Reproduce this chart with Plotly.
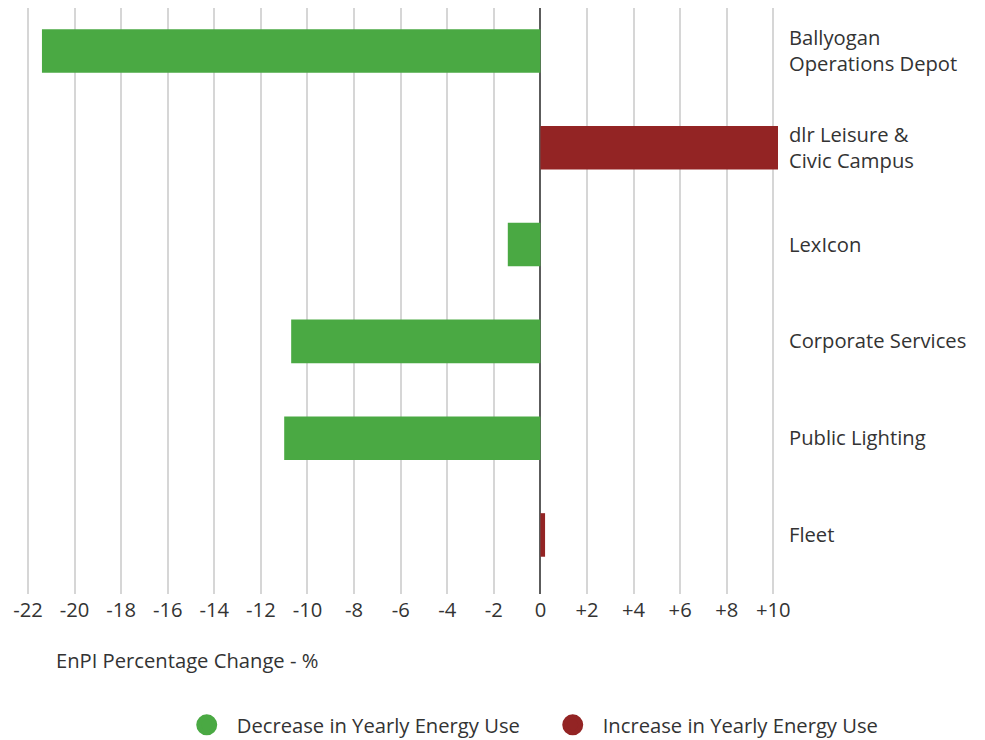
import plotly.graph_objects as go

# Sites and their year-on-year EnPI change (%)
categories = [
    "Ballyogan<br>Operations Depot",
    "dlr Leisure &<br>Civic Campus",
    "LexIcon",
    "Corporate Services",
    "Public Lighting",
    "Fleet",
]
enpi_change = [-21.4, 10.2, -1.4, -10.7, -11.0, 0.2]

x_tick_values = [-22, -20, -18, -16, -14, -12, -10, -8, -6, -4, -2, 0, 2, 4, 6, 8, 10]
x_tick_labels = ["-22", "-20", "-18", "-16", "-14", "-12", "-10", "-8", "-6", "-4",
                 "-2", "0", "+2", "+4", "+6", "+8", "+10"]

legend_names = ["Decrease in Yearly Energy Use", "Increase in Yearly Energy Use"]
legend_colors = ["#4aa943", "#932424"]

axis_title = "EnPI Percentage Change - %"

FONT = "Open Sans"
TEXT_COLOR = "#333333"
FONT_SIZE = 20.2

bar_colors = [legend_colors[0] if v < 0 else legend_colors[1] for v in enpi_change]

fig = go.Figure()

fig.add_trace(go.Bar(
    y=categories,
    x=enpi_change,
    orientation="h",
    width=0.45,
    marker=dict(color=bar_colors, line=dict(width=0)),
    showlegend=False,
    hoverinfo="x+y",
))

# Legend entries shown as round swatches
for name, color in zip(legend_names, legend_colors):
    fig.add_trace(go.Scatter(
        x=[None], y=[None],
        mode="markers",
        name=name,
        marker=dict(symbol="circle", size=16, color=color,
                    line=dict(color=color, width=5)),
    ))

fig.update_layout(
    width=985,
    height=740,
    margin=dict(l=14, r=207, t=8, b=146),
    paper_bgcolor="white",
    plot_bgcolor="white",
    font=dict(family=FONT, size=FONT_SIZE, color=TEXT_COLOR),
    xaxis=dict(
        range=[-22.6, 10.2],
        tickmode="array",
        tickvals=x_tick_values,
        ticktext=x_tick_labels,
        showgrid=True,
        gridcolor="#d6d6d6",
        gridwidth=1.5,
        zeroline=True,
        zerolinecolor="#5c5c5c",
        zerolinewidth=1.5,
        showline=False,
        ticks="",
        tickfont=dict(family=FONT, size=FONT_SIZE, color=TEXT_COLOR),
        ticklabelstandoff=2,
    ),
    yaxis=dict(
        type="category",
        categoryorder="array",
        categoryarray=categories,
        range=[5.61, -0.444],
        side="right",
        showgrid=False,
        zeroline=False,
        showline=False,
        ticks="",
        tickfont=dict(family=FONT, size=FONT_SIZE, color=TEXT_COLOR),
        ticklabelstandoff=10,
    ),
    legend=dict(
        orientation="h",
        xref="container",
        x=0.551,
        xanchor="center",
        yref="container",
        y=0.02,
        yanchor="middle",
        itemwidth=50,
        entrywidth=301,
        font=dict(family=FONT, size=FONT_SIZE, color=TEXT_COLOR),
        bgcolor="rgba(0,0,0,0)",
    ),
    annotations=[
        dict(
            text=axis_title,
            xref="paper", yref="paper",
            x=0.052, y=-0.1126,
            xanchor="left", yanchor="middle",
            showarrow=False,
            font=dict(family=FONT, size=FONT_SIZE, color=TEXT_COLOR),
        )
    ],
)

fig.write_html("out.html")
